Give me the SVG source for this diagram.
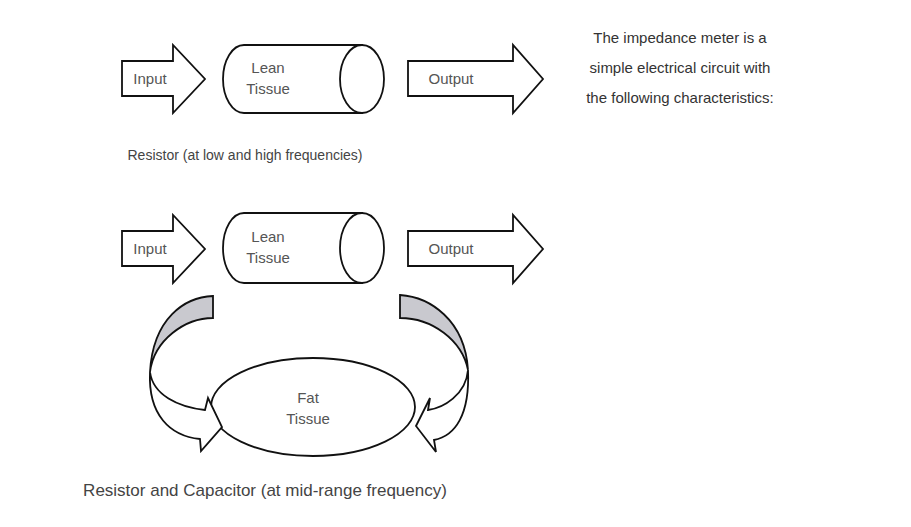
<svg xmlns="http://www.w3.org/2000/svg" width="911" height="527" viewBox="0 0 911 527">
<style>
.sh{fill:#fff;stroke:#111;stroke-width:1.8;stroke-linejoin:miter}
.gr{fill:#c9c9cf;stroke:#111;stroke-width:1.8}
.lb{font-family:"Liberation Sans",Arial,sans-serif;font-size:15px;fill:#555;text-anchor:middle}
.cap{font-family:"Liberation Sans",Arial,sans-serif;fill:#444;text-anchor:middle}
.side{font-family:"Liberation Sans",Arial,sans-serif;font-size:15px;fill:#333;text-anchor:middle}
</style>
<rect width="911" height="527" fill="#fff"/>

<g id="input1">
<path class="sh" d="M122,61 H173 V45 L205,79 L173,113 V96 H122 Z"/>
<text class="lb" x="150" y="84">Input</text>
</g>
<g id="lean1">
<path class="sh" d="M244,45 H362 V113 H244 A21,34 0 0 1 244,45 Z"/>
<ellipse class="sh" cx="362" cy="79" rx="22" ry="34"/>
<text class="lb" x="268" y="73">Lean</text>
<text class="lb" x="268" y="94">Tissue</text>
</g>
<g id="output1">
<path class="sh" d="M408,61 H513 V45 L543,79 L513,113 V96 H408 Z"/>
<text class="lb" x="451" y="84">Output</text>
</g>
<text class="cap" x="245" y="160" font-size="14">Resistor (at low and high frequencies)</text>

<g id="input2">
<path class="sh" d="M122,231 H173 V215 L205,249 L173,283 V266 H122 Z"/>
<text class="lb" x="150" y="254">Input</text>
</g>
<g id="lean2">
<path class="sh" d="M244,213 H362 V283 H244 A21,35 0 0 1 244,213 Z"/>
<ellipse class="sh" cx="362" cy="248" rx="22" ry="35"/>
<text class="lb" x="268" y="242">Lean</text>
<text class="lb" x="268" y="263">Tissue</text>
</g>
<g id="output2">
<path class="sh" d="M408,231 H513 V215 L543,249 L513,283 V266 H408 Z"/>
<text class="lb" x="451" y="254">Output</text>
</g>
<g id="fat">
<ellipse class="sh" cx="313" cy="407" rx="102" ry="49"/>
<text class="lb" x="308" y="403">Fat</text>
<text class="lb" x="308" y="424">Tissue</text>
</g>

<g id="connectors">
<path class="gr" d="M213,296 C185,297 153,318 150,372 C154,340 185,318 213,318 Z"/>
<path class="sh" d="M150,372 C153,395 178,407 205,410 L208,398 L222,427 L201,451 L200,439 C170,436 148,415 150,372 Z"/>
<path class="gr" d="M400,295 C430,297 465,320 468,370 C462,340 432,318 400,318 Z"/>
<path class="sh" d="M468,370 C466,395 443,408 428,410 L430,398 L416,426 L436,452 L434,440 C455,436 470,415 468,370 Z"/>
</g>
<text class="cap" x="265" y="496" font-size="17">Resistor and Capacitor (at mid-range frequency)</text>

<text class="side" x="680" y="43">The impedance meter is a</text>
<text class="side" x="680" y="73">simple electrical circuit with</text>
<text class="side" x="680" y="103">the following characteristics:</text>
</svg>
